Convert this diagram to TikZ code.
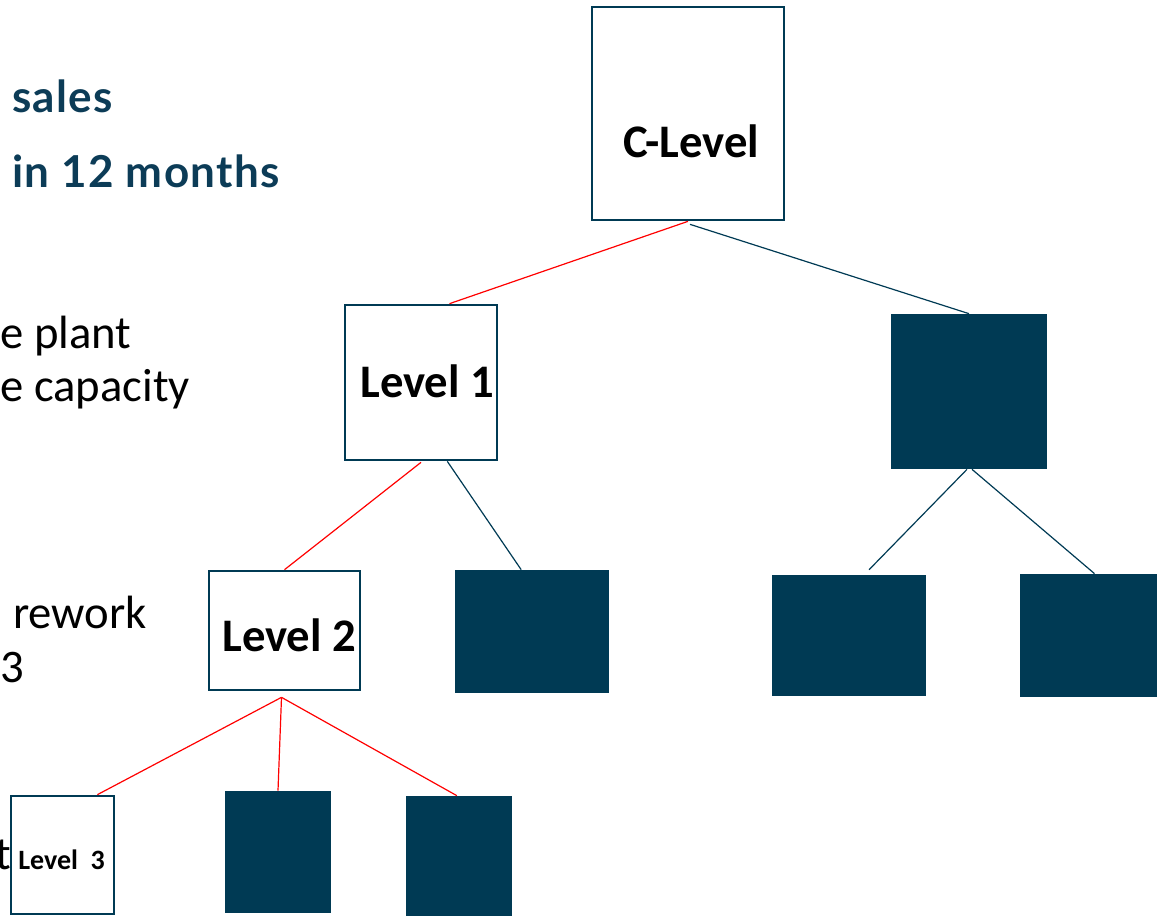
\documentclass[tikz,border=0pt]{standalone}
\usepackage{fontspec}
\setmainfont{Carlito}
\newfontfamily\headfont[LetterSpace=3]{Lato}
\usetikzlibrary{calc}
\definecolor{navy}{RGB}{0,58,84}
\definecolor{headnavy}{RGB}{12,60,87}
\tikzset{
  x={(0.75pt,0)}, y={(0,-0.75pt)},
  wbox/.style={draw=navy, line width=2pt, fill=white, inner sep=0pt},
  fbox/.style={draw=navy, line width=2pt, fill=navy, inner sep=0pt},
  lbl/.style={font=\fontsize{35}{40}\selectfont\bfseries, inner sep=0pt, anchor=base west},
  body/.style={font=\fontsize{35}{40}\selectfont, inner sep=0pt, anchor=base west},
  head/.style={font=\headfont\fontsize{33}{40}\selectfont\bfseries, text=headnavy, inner sep=0pt, anchor=base west},
  redl/.style={draw=red, line width=0.9pt},
  navl/.style={draw=navy, line width=0.9pt}
}
\begin{document}
\begin{tikzpicture}
\useasboundingbox (0,0) rectangle (1157,915);
\clip (0,0) rectangle (1157,915);
% left texts
\node[head] (t1) at (12,112) {sales};
\node[head] (t2) at (12,187) {in 12 months};
\node[body] (t3) at (0,348) {e plant};
\node[body] (t4) at (0,401) {e capacity};
\node[body] (t5) at (13,628) {rework};
\node[body] (t6) at (0,682) {3};
\node[body, anchor=base east] (t7) at (11,869) {t};
% boxes
\node[wbox, minimum width=144pt, minimum height=159.75pt] (c) at (688,113.5) {};
\node[wbox, minimum width=114pt, minimum height=116.25pt] (l1) at (421,382.5) {};
\node[fbox, minimum width=115.5pt, minimum height=114.75pt] (r1) at (969,391.5) {};
\node[wbox, minimum width=113.25pt, minimum height=89.25pt] (l2) at (284.5,630.5) {};
\node[fbox, minimum width=114pt, minimum height=90.75pt] (f2) at (532,631.5) {};
\node[fbox, minimum width=114pt, minimum height=89.25pt] (f3) at (849,635.5) {};
\node[fbox, minimum width=102pt, minimum height=90.75pt] (f4) at (1089,635.5) {};
\node[wbox, minimum width=77.25pt, minimum height=88.5pt] (l3) at (62.5,855) {};
\node[fbox, minimum width=78pt, minimum height=90pt] (f5) at (278,852) {};
\node[fbox, minimum width=78pt, minimum height=88.5pt] (f6) at (459,856) {};
% labels
\node[lbl] (cl) at (623,157) {C-Level};
\node[lbl] (l1l) at (360,397) {Level 1};
\node[lbl] (l2l) at (222,651) {Level 2};
\node[lbl, font=\fontsize{21}{25}\selectfont\bfseries] (l3l) at (18,869) {Level\ \ 3};
% connectors
\draw[redl] (c.south) -- ($(l1.north west)!0.684!(l1.north east)$);
\draw[navl] ($(c.south)+(2,3)$) -- (r1.north);
\draw[redl] ($(l1.south)+(0,1)$) -- (l2.north);
\draw[navl] ($(l1.south west)!0.67!(l1.south east)$) -- ($(f2.north west)!0.43!(f2.north east)$);
\draw[navl] ($(r1.south)+(-2,0)$) -- ($(f3.north west)!0.63!(f3.north east)+(0,-5)$);
\draw[navl] ($(r1.south)+(3,0)$) -- ($(f4.north west)!0.54!(f4.north east)$);
\coordinate (l2b) at ($(l2.south)+(-3,6)$);
\draw[redl] (l2b) -- ($(l3.north west)!0.83!(l3.north east)$);
\draw[redl] (l2b) -- (f5.north);
\draw[redl] (l2b) -- ($(f6.north west)!0.48!(f6.north east)$);
\end{tikzpicture}
\end{document}
